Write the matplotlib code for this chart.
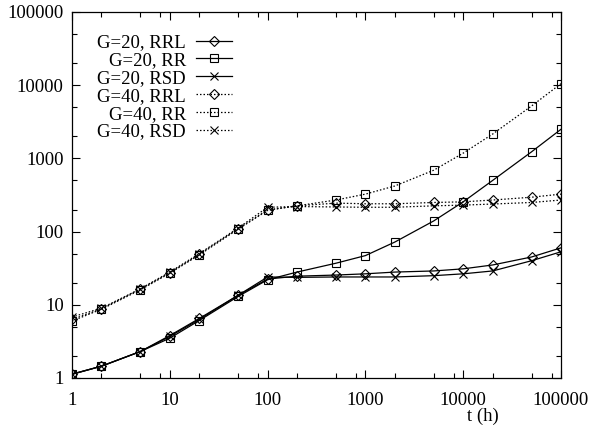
import numpy as np
import matplotlib
matplotlib.use("Agg")
import matplotlib.pyplot as plt
from matplotlib.ticker import FixedLocator, FixedFormatter, NullFormatter

plt.rcParams['font.family'] = ['Liberation Serif', 'DejaVu Serif']

# time points (h)
t_hours = [1, 2, 5, 10, 20, 50, 100, 200, 500, 1000, 2000, 5000, 10000, 20000, 50000, 100000]

g20_rrl = [1.13, 1.45, 2.3, 3.8, 6.5, 13.5, 22.5, 24.6, 25.5, 26.5, 28, 29, 31, 35, 45, 60]
g20_rr = [1.12, 1.45, 2.3, 3.5, 6.1, 13, 22, 28, 37, 47, 72, 140, 255, 500, 1230, 2500]
g20_rsd = [1.13, 1.45, 2.3, 3.7, 6.3, 13.5, 24, 23.7, 24, 24, 24, 25, 26.5, 29, 40, 53]
g40_rrl = [6.3, 8.8, 16.5, 27.5, 49, 110, 198, 225, 245, 240, 240, 250, 255, 270, 295, 325]
g40_rr = [6.0, 8.7, 16, 27, 48, 108, 195, 225, 270, 325, 420, 690, 1180, 2150, 5200, 10500]
g40_rsd = [6.8, 9.0, 16.5, 28, 50, 112, 215, 220, 217, 215, 215, 225, 230, 238, 250, 270]

series = [
    ("G=20, RRL", g20_rrl, "D", "-"),
    ("G=20, RR", g20_rr, "s", "-"),
    ("G=20, RSD", g20_rsd, "x", "-"),
    ("G=40, RRL", g40_rrl, "D", (0, (1.2, 1.6))),
    ("G=40, RR", g40_rr, "s", (0, (1.2, 1.6))),
    ("G=40, RSD", g40_rsd, "x", (0, (1.2, 1.6))),
]

major = [1, 10, 100, 1000, 10000, 100000]
major_labels = [str(v) for v in major]

fig = plt.figure(figsize=(5.89, 4.29), dpi=100)
ax = fig.add_axes([72/589, 51/429, 489/589, 366/429])

for label, vals, mk, ls in series:
    ms = 5.0 if mk == "D" else 6.0
    ax.plot(t_hours, vals, color="black", lw=0.9, ls=ls, marker=mk, ms=ms,
            mfc="none", mec="black", mew=0.8, label=label)

ax.set_xscale("log")
ax.set_yscale("log")
ax.set_xlim(1, 100000)
ax.set_ylim(1, 100000)

ax.xaxis.set_major_locator(FixedLocator(major))
ax.xaxis.set_major_formatter(FixedFormatter(major_labels))
ax.yaxis.set_major_locator(FixedLocator(major))
ax.yaxis.set_major_formatter(FixedFormatter(major_labels))
xminor = [d * m for d in major[:-1] for m in (2, 5, 8)]
yminor = [d * m for d in major[:-1] for m in (2, 5)]
ax.xaxis.set_minor_locator(FixedLocator(xminor))
ax.yaxis.set_minor_locator(FixedLocator(yminor))
ax.xaxis.set_minor_formatter(NullFormatter())
ax.yaxis.set_minor_formatter(NullFormatter())

ax.tick_params(which="both", direction="in", top=True, right=True, width=0.8, labelsize=13.5)
ax.tick_params(which="major", length=6)
ax.tick_params(which="minor", length=3.5)
ax.tick_params(axis="x", pad=10)
ax.tick_params(axis="y", pad=6)
for sp in ax.spines.values():
    sp.set_linewidth(0.9)

fig.text(483/589, 1 - 416/429, "t (h)", ha="center", va="center", fontsize=13.5)

leg = ax.legend(loc="upper right", bbox_to_anchor=(232/589, 1 - 34/429),
                bbox_transform=fig.transFigure, frameon=False, markerfirst=False,
                numpoints=1, fontsize=13.5, borderpad=0, borderaxespad=0,
                handlelength=1.9, handletextpad=0.55, labelspacing=0.04)

fig.savefig("out.png", dpi=100)
